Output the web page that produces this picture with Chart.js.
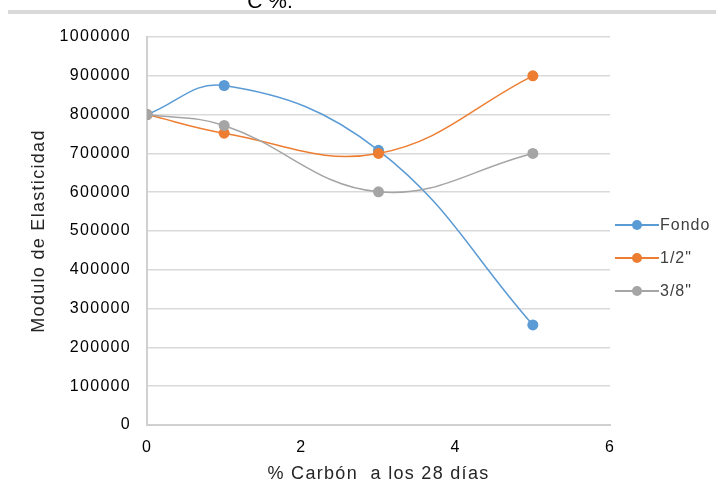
<!DOCTYPE html>
<html>
<head>
<meta charset="utf-8">
<script src="https://cdn.jsdelivr.net/npm/chart.js@4.4.1/dist/chart.umd.min.js"></script>
<style>
  body { margin: 0; background: #fff; }
  #wrap { width: 716px; height: 500px; }
</style>
</head>
<body>
<div id="wrap"><canvas id="myChart" width="716" height="500"></canvas></div>
<script>
// data
var xValues = [0, 1, 3, 5];
var fondo = [800000, 875000, 708000, 258000];
var medio = [800000, 752000, 700000, 900000];
var tresOctavos = [800000, 772000, 601000, 700000];
var seriesNames = ['Fondo', '1/2"', '3/8"'];
var seriesColors = ['#5B9BD5', '#ED7D31', '#A5A5A5'];
var xTicks = [0, 2, 4, 6];

var ctx = document.getElementById('myChart').getContext('2d');
var fontName = '"Liberation Sans", Arial, sans-serif';

function toPoints(ys) {
    return ys.map((y, i) => ({x: xValues[i], y: y}));
}

// title remnant + top border, spacing for text
const decor = {
    id: 'decor',
    beforeDraw(chart) {
        const c = chart.ctx;
        c.save();
        c.fillStyle = '#fff';
        c.fillRect(0, 0, chart.width, chart.height);
        c.fillStyle = '#000';
        c.font = '21px ' + fontName;
        c.textAlign = 'center';
        c.textBaseline = 'alphabetic';
        c.fillText('C %.', 270, 8);
        c.fillStyle = '#d9d9d9';
        c.fillRect(8, 10, 708, 4);
        c.restore();
        c.letterSpacing = '1.3px';
    }
};

// legend with line + dot, like the spreadsheet one
const sideLegend = {
    id: 'sideLegend',
    afterDraw(chart) {
        const c = chart.ctx;
        c.save();
        c.letterSpacing = '1px';
        chart.data.datasets.forEach((ds, i) => {
            const y = 225 + i * 33;
            c.strokeStyle = ds.borderColor;
            c.lineWidth = 2;
            c.beginPath();
            c.moveTo(615, y);
            c.lineTo(659, y);
            c.stroke();
            c.fillStyle = ds.backgroundColor;
            c.beginPath();
            c.arc(637, y, 5, 0, Math.PI * 2);
            c.fill();
            c.fillStyle = '#404040';
            c.font = '16px ' + fontName;
            c.textAlign = 'left';
            c.textBaseline = 'middle';
            c.fillText(ds.label, 660, y + 1);
        });
        c.restore();
    }
};

var allSeries = [fondo, medio, tresOctavos];

new Chart(ctx, {
    type: 'scatter',
    data: {
        datasets: allSeries.map((ys, i) => ({
            label: seriesNames[i],
            data: toPoints(ys),
            showLine: true,
            tension: 0.4,
            borderColor: seriesColors[i],
            backgroundColor: seriesColors[i],
            borderWidth: 1.5,
            pointRadius: 5.5,
            pointHoverRadius: 5.5,
            pointBorderWidth: 0,
            order: 3 - i
        }))
    },
    options: {
        responsive: false,
        animation: false,
        layout: {padding: {left: 24, right: 106, top: 37, bottom: 11}},
        plugins: {
            legend: {display: false},
            tooltip: {enabled: false}
        },
        scales: {
            x: {
                type: 'linear',
                min: 0,
                max: 6,
                afterBuildTicks: s => { s.ticks = xTicks.map(v => ({value: v})); },
                afterFit: s => { s.height = 64; },
                grid: {display: false, drawTicks: false},
                border: {display: true, color: '#d0d0d0', width: 2},
                ticks: {
                    padding: 13,
                    color: '#000',
                    font: {family: fontName, size: 16}
                },
                title: {
                    display: true,
                    text: '% Carbón  a los 28 días',
                    color: '#262626',
                    font: {family: fontName, size: 18},
                    padding: {top: 2}
                }
            },
            y: {
                min: 0,
                max: 1000000,
                afterFit: s => { s.width = 123; },
                grid: {color: '#d9d9d9', lineWidth: 1.5, drawTicks: false},
                border: {display: true, color: '#d0d0d0', width: 2},
                ticks: {
                    stepSize: 100000,
                    padding: 16,
                    color: '#000',
                    font: {family: fontName, size: 16},
                    callback: v => String(v)
                },
                title: {
                    display: true,
                    text: 'Modulo de Elasticidad',
                    color: '#262626',
                    font: {family: fontName, size: 18},
                    padding: {bottom: 0}
                }
            }
        }
    },
    plugins: [decor, sideLegend]
});
</script>
</body>
</html>
